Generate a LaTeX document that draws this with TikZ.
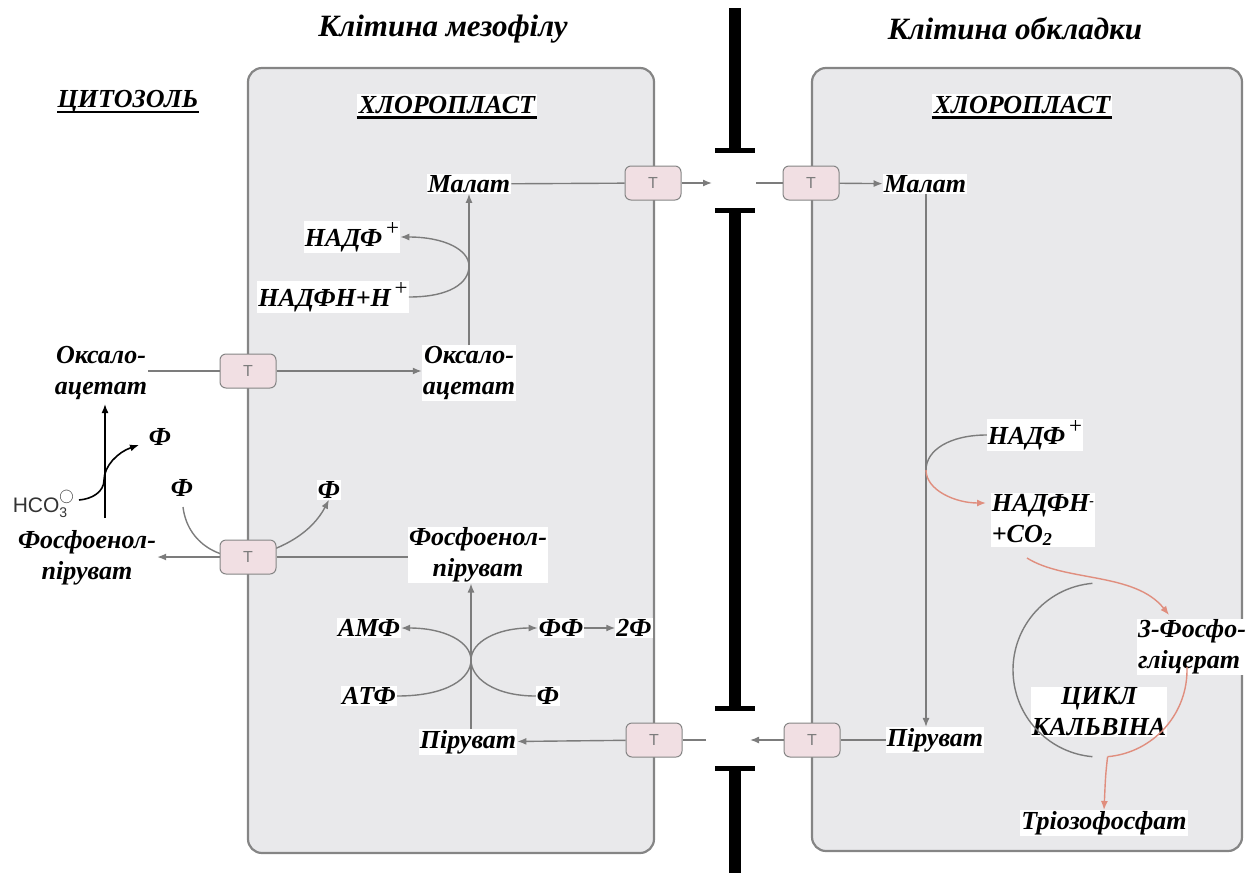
\documentclass[tikz,border=0pt]{standalone}
\usepackage{fontspec}
\setmainfont{Liberation Serif}
\setsansfont{Liberation Sans}
\usetikzlibrary{arrows.meta}
\definecolor{cellfill}{HTML}{E9E9EB}
\definecolor{cellline}{HTML}{858585}
\definecolor{flow}{HTML}{7C7C7C}
\definecolor{redflow}{HTML}{E08E7E}
\definecolor{tfill}{HTML}{F1DFE3}
% raised plus sign used after НАДФ
\newcommand{\plussup}{\raisebox{0.95ex}{\fontsize{23}{23}\selectfont\mdseries\upshape\,+}}
\begin{document}
\begin{tikzpicture}[x=1pt,y=-1pt,
  lbl/.style={font=\fontsize{26}{31}\selectfont\bfseries\itshape, fill=white, inner sep=1pt, align=center},
  heading/.style={font=\fontsize{26}{28}\selectfont\bfseries\itshape, inner sep=0pt},
  title/.style={font=\fontsize{31}{33}\selectfont\bfseries\itshape, inner sep=0pt},
  cell/.style={draw=cellline, fill=cellfill, line width=2.2pt, rounded corners=14pt},
  tport/.style={draw=cellline, fill=tfill, rounded corners=6pt, line width=1pt,
    minimum width=56pt, minimum height=34pt, inner sep=0pt,
    font=\sffamily\fontsize{16}{16}\selectfont, text=flow},
  flowline/.style={draw=flow, line width=1.4pt},
  flowarrow/.style={flowline, -{Latex[length=9pt,width=7pt]}},
  redarrow/.style={draw=redflow, line width=1.4pt, -{Latex[length=9pt,width=7pt]}},
  blackarrow/.style={draw=black, line width=1.6pt, -{Latex[length=9pt,width=7pt]}},
  wall/.style={line width=12pt, black},
  wallcap/.style={line width=5pt, black},
]
\useasboundingbox (0,0) rectangle (1250,873);

% cell outlines
\draw[cell] (248,68) rectangle (654,853);
\draw[cell] (812,68) rectangle (1242,851);

% cell wall with plasmodesmata gaps
\draw[wall] (735,8) -- (735,150);
\draw[wallcap] (715,150) -- (755,150);
\draw[wall] (735,210) -- (735,708);
\draw[wallcap] (715,210) -- (755,210);
\draw[wallcap] (715,708) -- (755,708);
\draw[wall] (735,768) -- (735,873);
\draw[wallcap] (715,768) -- (755,768);

% titles and compartment headings
\node[title] (tmeso) at (443,29) {Клітина мезофілу};
\node[title] (tbund) at (1015,29) {Клітина обкладки};
\node[heading] (cyto) at (128,102) {ЦИТОЗОЛЬ};
\node[heading, fill=white, inner sep=2pt] (chlL) at (447,105) {ХЛОРОПЛАСТ};
\node[heading, fill=white, inner sep=2pt] (chlR) at (1022,105) {ХЛОРОПЛАСТ};
\foreach \h in {cyto,chlL,chlR}
  \draw[line width=2.6pt] ([yshift=-4pt]\h.base west) -- ([yshift=-4pt]\h.base east);

% metabolites
\node[lbl] (malL) at (469,184) {Малат};
\node[lbl] (nadpL) at (352,237) {НАДФ\plussup};
\node[lbl] (nadphL) at (333,297) {НАДФН+Н\plussup};
\node[lbl] (oaaL) at (469,373) {Оксало-\\ацетат};
\node[lbl] (oaaC) at (101,373) {Оксало-\\ацетат};
\node[lbl, fill=none] (phiC) at (160,437) {Ф};
\node[font=\sffamily\fontsize{21}{21}\selectfont, text=black!80, inner sep=1pt] (hco) at (40,504)
  {HCO\rlap{\raisebox{1.05ex}{\fontsize{15}{15}\selectfont$\bigcirc$}}\raisebox{-0.45ex}{\fontsize{14}{14}\selectfont 3}};
\node[lbl] (pepC) at (87,558) {Фосфоенол-\\піруват};
\node[lbl] (phiA) at (182,488) {Ф};
\node[lbl] (phiB) at (329,490) {Ф};
\node[lbl] (pepL) at (478,555) {Фосфоенол-\\піруват};
\node[lbl] (amp) at (369,628) {АМФ};
\node[lbl] (ff) at (561,628) {ФФ};
\node[lbl] (twoF) at (634,628) {2Ф};
\node[lbl] (atp) at (369,696) {АТФ};
\node[lbl] (phiD) at (548,696) {Ф};
\node[lbl] (pyrL) at (468,742) {Піруват};
\node[lbl] (malR) at (925,184) {Малат};
\node[lbl] (pyrR) at (935,740) {Піруват};
\node[lbl] (nadpR) at (1035,435) {НАДФ\plussup};
\node[lbl, align=left] (nadphR) at (1043,520)
  {НАДФН{\fontsize{14}{14}\selectfont\raisebox{0.9ex}{-}}\\+CO\textsubscript{2}};
\node[lbl, align=left] (pga) at (1192,647) {3-Фосфо-\\гліцерат};
\node[lbl] (calvin) at (1099,712) {ЦИКЛ\\КАЛЬВІНА};
\node[lbl] (triose) at (1104,823) {Тріозофосфат};

% gap points in the plasmodesmata
\coordinate (gapA) at (712,183);
\coordinate (gapB) at (756,183);
\coordinate (gapC) at (750,740);
\coordinate (gapD) at (706,740);

% curved side reactions (drawn before transporters)
\draw[flowarrow] (183,507) .. controls (188,548) and (228,562) .. (252,556)
  .. controls (285,548) and (312,532) .. (phiB.south);
\draw[flowarrow] (nadphL.east) .. controls (450,297) and (469,283) .. (469,266)
  .. controls (469,250) and (445,237) .. (nadpL.east);
\draw[flowarrow] (atp.east) .. controls (448,696) and (471,678) .. (471,660)
  .. controls (471,642) and (445,628) .. (amp.east);
\draw[flowarrow] (phiD.west) .. controls (494,696) and (471,678) .. (471,660)
  .. controls (471,642) and (497,628) .. (ff.west);
\draw[flowarrow] (ff) -- (twoF);

% transporters
\node[tport] (t1) at (653,183) {T};
\node[tport] (t2) at (811,183) {T};
\node[tport] (t3) at (248,371) {T};
\node[tport] (t4) at (248,557) {T};
\node[tport] (t5) at (654,740) {T};
\node[tport] (t6) at (812,740) {T};

% malate shuttle
\draw[flowline] (malL) -- (t1);
\draw[flowarrow] (t1) -- (gapA);
\draw[flowline] (gapB) -- (t2);
\draw[flowarrow] (t2) -- (malR);
\draw[flowarrow] (malR.south -| 926,0) -- (pyrR.north -| 926,0);

% pyruvate return
\draw[flowline] (pyrR) -- (t6);
\draw[flowarrow] (t6) -- (gapC);
\draw[flowline] (gapD) -- (t5);
\draw[flowarrow] (t5) -- (pyrL);
\draw[flowarrow] (pyrL.north -| 471,0) -- (pepL.south -| 471,0);

% PEP export and OAA import
\draw[flowline] (t4 -| pepL.west) -- (t4);
\draw[flowarrow] (t4) -- (t4 -| pepC.east);
\draw[flowline] (t3 -| oaaC.east) -- (t3);
\draw[flowarrow] (t3) -- (t3 -| oaaL.west);
\draw[flowarrow] (oaaL.north -| 469,0) -- (malL.south -| 469,0);

% cytosolic carboxylation
\coordinate (pepTop) at (105,518);
\coordinate (oaaBot) at (105,404);
\draw[blackarrow] (pepTop) -- (oaaBot);
\draw[blackarrow] (79,500) .. controls (92,499) and (104,492) .. (104,480)
  .. controls (104,466) and (118,452) .. (139,445);

% bundle-sheath decarboxylation
\draw[flowline] (nadpR.west) .. controls (950,435) and (926,450) .. (926,470);
\draw[redarrow] (926,470) .. controls (926,490) and (955,503) .. (986,503);

% Calvin cycle
\coordinate (cc) at (1100,670);
\draw[flowline] (cc) ++(95:87pt) arc[start angle=95, end angle=265, radius=87pt];
\draw[draw=redflow, line width=1.4pt] (cc) ++(2:87pt) arc[start angle=2, end angle=-85, radius=87pt];
\draw[redarrow] (1027,558) .. controls (1065,582) and (1135,572) .. (1169,615);
\draw[redarrow] (cc) ++(-85:87pt) .. controls +(-2,18) .. (triose.north);
\end{tikzpicture}
\end{document}
